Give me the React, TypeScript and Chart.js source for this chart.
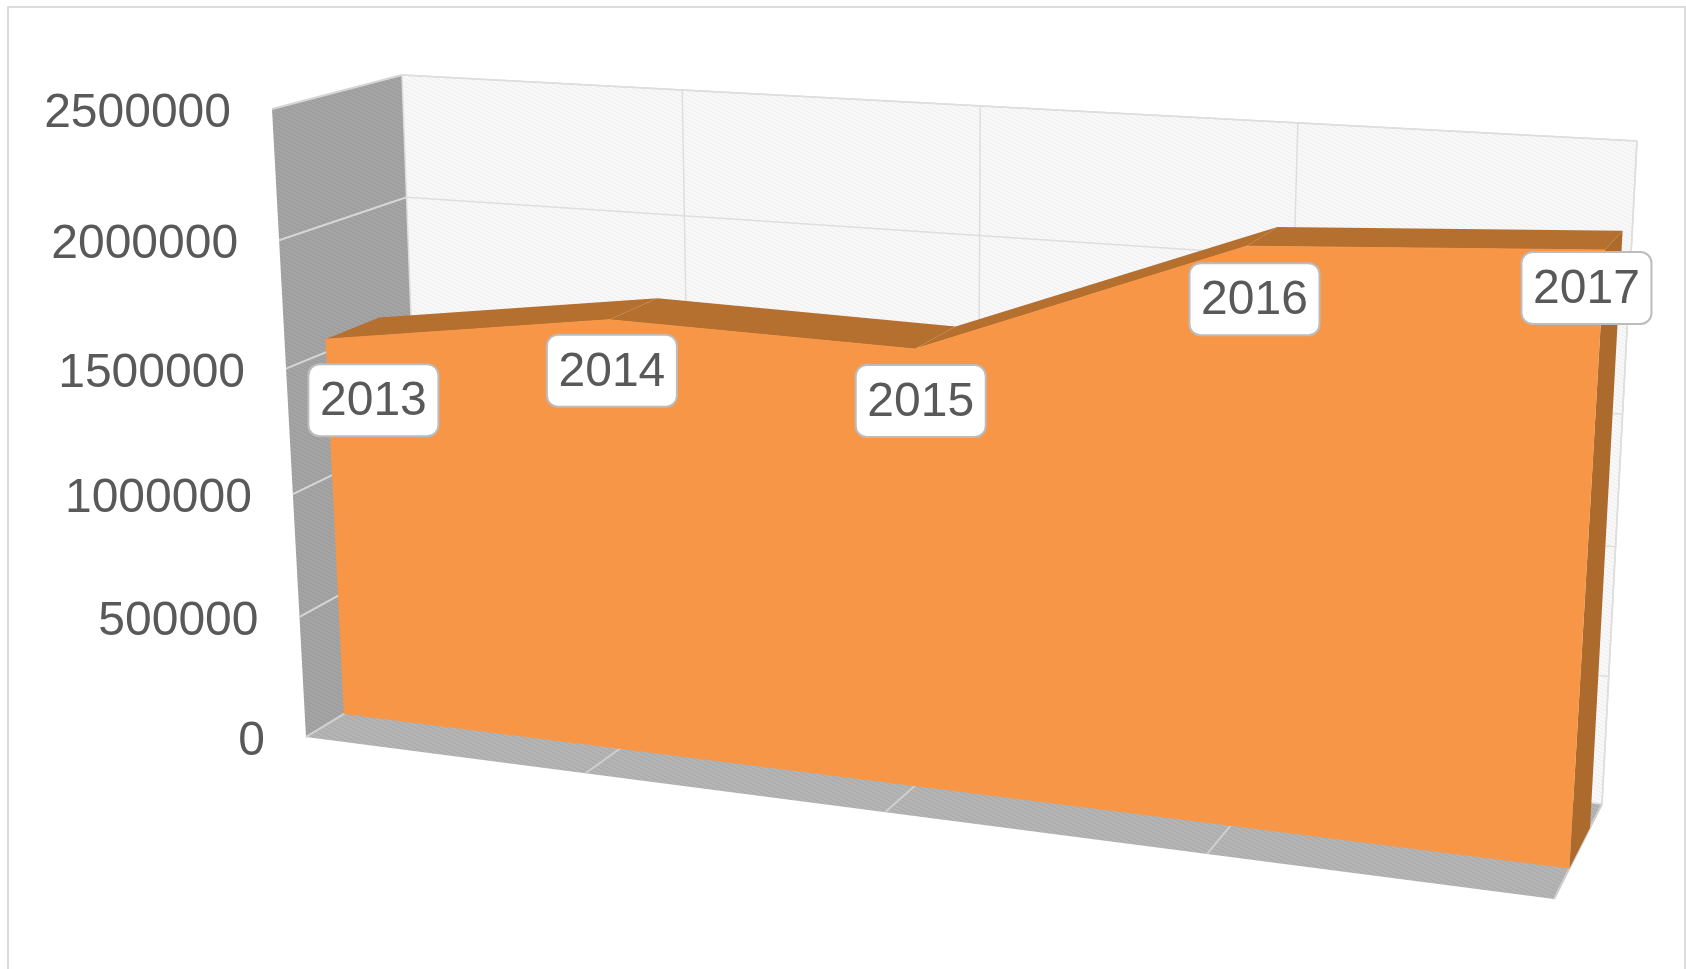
import React, { useEffect, useRef } from "react";
import { Chart, LinearScale, registerables } from "chart.js";

const categories = ["2013", "2014", "2015", "2016", "2017"];
const seriesValues = [1552000, 1717000, 1695000, 2153000, 2217000];
const axisMin = 0;
const axisMax = 2500000;
const axisStep = 500000;

type P = [number, number];
// Box corners of the 3-D view: bottom-left, bottom-right, top-right, top-left
const FRONT: P[] = [[306, 737], [1554, 899], [1597, 178], [272, 109]];
const BACK: P[] = [[424, 665], [1602, 804], [1637, 141], [402, 75]];
const FACE_DEPTH = 0.32;
const REAR_DEPTH = 0.75;
const LABEL_OFFSETS: P[] = [[48, 61], [3, 51], [6, 52], [8, 53], [-18.5, 38]];

const FONT = '48px "Liberation Sans", Arial, sans-serif';
const TEXT = "#595959";
const ORANGE = "#f79646";
const RIBBON = "#b56f2f";
const SIDE = "#ac6a2c";

function project(u: number, v: number, t: number): P {
  const q = FRONT.map((c, i) => [c[0] + (BACK[i][0] - c[0]) * t, c[1] + (BACK[i][1] - c[1]) * t]);
  const [p0, p1, p2, p3] = q;
  const sx = p0[0] - p1[0] + p2[0] - p3[0];
  const sy = p0[1] - p1[1] + p2[1] - p3[1];
  const dx1 = p1[0] - p2[0];
  const dx2 = p3[0] - p2[0];
  const dy1 = p1[1] - p2[1];
  const dy2 = p3[1] - p2[1];
  const den = dx1 * dy2 - dx2 * dy1;
  const g = (sx * dy2 - dx2 * sy) / den;
  const h = (dx1 * sy - sx * dy1) / den;
  const a = p1[0] - p0[0] + g * p1[0];
  const b = p3[0] - p0[0] + h * p3[0];
  const d = p1[1] - p0[1] + g * p1[1];
  const e = p3[1] - p0[1] + h * p3[1];
  const w = g * u + h * v + 1;
  return [(a * u + b * v + p0[0]) / w, (d * u + e * v + p0[1]) / w];
}

class PerspectiveScale extends LinearScale {
  static id = "perspectiveLinear";
  _computeLabelArea() {
    return undefined;
  }
  _computeLabelItems(area: any) {
    const items = (LinearScale.prototype as any)._computeLabelItems.call(this, area);
    const s = this as any;
    items.forEach((it: any, i: number) => {
      const v = (s.bottom - s.getPixelForValue(s.ticks[i].value)) / s.height;
      const [x, y] = project(0, v, 0);
      it.options.translation = [x - 41, y + 5];
      it.options.textAlign = "right";
      it.options.textBaseline = "middle";
    });
    return items;
  }
}

Chart.register(...registerables, PerspectiveScale as any);

function hatch(base: string, line: string, ctx: CanvasRenderingContext2D) {
  const c = document.createElement("canvas");
  c.width = 8;
  c.height = 4;
  const g = c.getContext("2d")!;
  g.fillStyle = base;
  g.fillRect(0, 0, 8, 4);
  g.fillStyle = line;
  for (let i = 0; i < 8; i++) g.fillRect(i, Math.floor(i / 2) % 4, 1, 1);
  return ctx.createPattern(c, "repeat")!;
}

function poly(ctx: CanvasRenderingContext2D, pts: P[], fill: any) {
  ctx.beginPath();
  pts.forEach((p, i) => (i ? ctx.lineTo(p[0], p[1]) : ctx.moveTo(p[0], p[1])));
  ctx.closePath();
  ctx.fillStyle = fill;
  ctx.fill();
}

function seg(ctx: CanvasRenderingContext2D, a: P, b: P, color: string, w: number) {
  ctx.beginPath();
  ctx.moveTo(a[0], a[1]);
  ctx.lineTo(b[0], b[1]);
  ctx.strokeStyle = color;
  ctx.lineWidth = w;
  ctx.stroke();
}

const uOf = (c: any, px: number) => (px - c.scales.x.left) / c.scales.x.width;
const vOf = (c: any, py: number) => (c.scales.y.bottom - py) / c.scales.y.height;

const scenePlugin = {
  id: "scene3d",
  afterDatasetsUpdate(c: any) {
    const meta = c.getDatasetMeta(0);
    meta.data.forEach((el: any) => {
      const [x, y] = project(uOf(c, el.x), vOf(c, el.y), FACE_DEPTH);
      el.x = x;
      el.y = y;
    });
  },
  beforeDraw(c: any) {
    const ctx = c.ctx;
    ctx.save();
    ctx.fillStyle = "#ffffff";
    ctx.fillRect(0, 0, c.width, c.height);
    ctx.strokeStyle = "#dcdcdc";
    ctx.lineWidth = 2;
    ctx.beginPath();
    ctx.moveTo(8, c.height + 4);
    ctx.lineTo(8, 7);
    ctx.lineTo(c.width - 1, 7);
    ctx.lineTo(c.width - 1, c.height + 4);
    ctx.stroke();
    ctx.restore();
  },
  beforeDatasetsDraw(c: any) {
    const ctx: CanvasRenderingContext2D = c.ctx;
    const xs = c.scales.x;
    const ys = c.scales.y;
    const ticksV = ys.ticks.map((t: any) => vOf(c, ys.getPixelForValue(t.value)));
    const ticksU = categories.map((_, i) => uOf(c, xs.getPixelForValue(i)));
    ctx.save();
    // walls
    poly(ctx, BACK, hatch("#f8f8f8", "#efefef", ctx));
    poly(ctx, [FRONT[0], FRONT[3], BACK[3], BACK[0]], hatch("#a4a4a4", "#9b9b9b", ctx));
    poly(ctx, [FRONT[0], FRONT[1], BACK[1], BACK[0]], hatch("#b4b4b4", "#aaaaaa", ctx));
    // back wall edges
    seg(ctx, BACK[3], BACK[2], "#dadada", 1.5);
    seg(ctx, BACK[2], BACK[1], "#dadada", 1.5);
    // gridlines
    ticksV.forEach((v: number) => {
      seg(ctx, project(0, v, 1), project(1, v, 1), "#dedede", 1.5);
      seg(ctx, project(0, v, 0), project(0, v, 1), "#d6d6d6", 2);
    });
    ticksU.forEach((u: number) => {
      seg(ctx, project(u, 0, 1), project(u, 1, 1), "#dedede", 1.5);
      seg(ctx, project(u, 0, 0), project(u, 0, 1), "#cfcfcf", 2);
    });
    // the area, with its extruded top and right side
    const n = categories.length;
    const top = c.getDatasetMeta(0).data as any[];
    const vals = c.data.datasets[0].data.map((d: number) => vOf(c, ys.getPixelForValue(d)));
    for (let i = 0; i < n - 1; i++) {
      poly(ctx, [
        [top[i].x, top[i].y],
        [top[i + 1].x, top[i + 1].y],
        project(ticksU[i + 1], vals[i + 1], REAR_DEPTH),
        project(ticksU[i], vals[i], REAR_DEPTH),
      ], RIBBON);
    }
    poly(ctx, [
      [top[n - 1].x, top[n - 1].y],
      project(ticksU[n - 1], vals[n - 1], REAR_DEPTH),
      project(ticksU[n - 1], 0, REAR_DEPTH),
      project(ticksU[n - 1], 0, FACE_DEPTH),
    ], SIDE);
    poly(ctx, [
      ...top.map((p: any) => [p.x, p.y] as P),
      ...ticksU.slice().reverse().map((u: number) => project(u, 0, FACE_DEPTH)),
    ], ORANGE);
    ctx.restore();
  },
  afterDatasetsDraw(c: any) {
    const ctx: CanvasRenderingContext2D = c.ctx;
    const pts = c.getDatasetMeta(0).data;
    ctx.save();
    ctx.font = FONT;
    ctx.textAlign = "center";
    ctx.textBaseline = "middle";
    c.data.labels.forEach((label: string, i: number) => {
      const cx = pts[i].x + LABEL_OFFSETS[i][0];
      const cy = pts[i].y + LABEL_OFFSETS[i][1];
      ctx.beginPath();
      ctx.roundRect(cx - 65, cy - 36, 130, 72, 11);
      ctx.fillStyle = "#ffffff";
      ctx.fill();
      ctx.strokeStyle = "#bcbcbc";
      ctx.lineWidth = 2;
      ctx.stroke();
      ctx.fillStyle = TEXT;
      ctx.fillText(label, cx, cy + 2);
    });
    ctx.restore();
  },
};

export default function App() {
  const ref = useRef<HTMLCanvasElement>(null);
  useEffect(() => {
    const chart = new Chart(ref.current!, {
      type: "line",
      data: {
        labels: categories,
        datasets: [
          {
            data: seriesValues,
            borderColor: ORANGE,
            borderWidth: 1,
            backgroundColor: ORANGE,
            pointRadius: 0,
            tension: 0,
            fill: false,
            clip: false,
          },
        ],
      },
      options: {
        responsive: false,
        animation: false,
        layout: { padding: 0 },
        plugins: { legend: { display: false }, tooltip: { enabled: false } },
        scales: {
          x: { display: false, type: "category" },
          y: {
            type: "perspectiveLinear",
            min: axisMin,
            max: axisMax,
            grid: { display: false },
            border: { display: false },
            ticks: {
              stepSize: axisStep,
              color: TEXT,
              autoSkip: false,
              font: { family: '"Liberation Sans", Arial, sans-serif', size: 48 },
              callback: (v: any) => String(v),
            },
          },
        } as any,
      } as any,
      plugins: [scenePlugin as any],
    });
    return () => chart.destroy();
  }, []);
  return (
    <div style={{ position: "fixed", left: 0, top: 0, width: 1686, height: 969, overflow: "hidden", background: "#fff" }}>
      <canvas ref={ref} width={1686} height={969} style={{ display: "block" }} />
    </div>
  );
}
